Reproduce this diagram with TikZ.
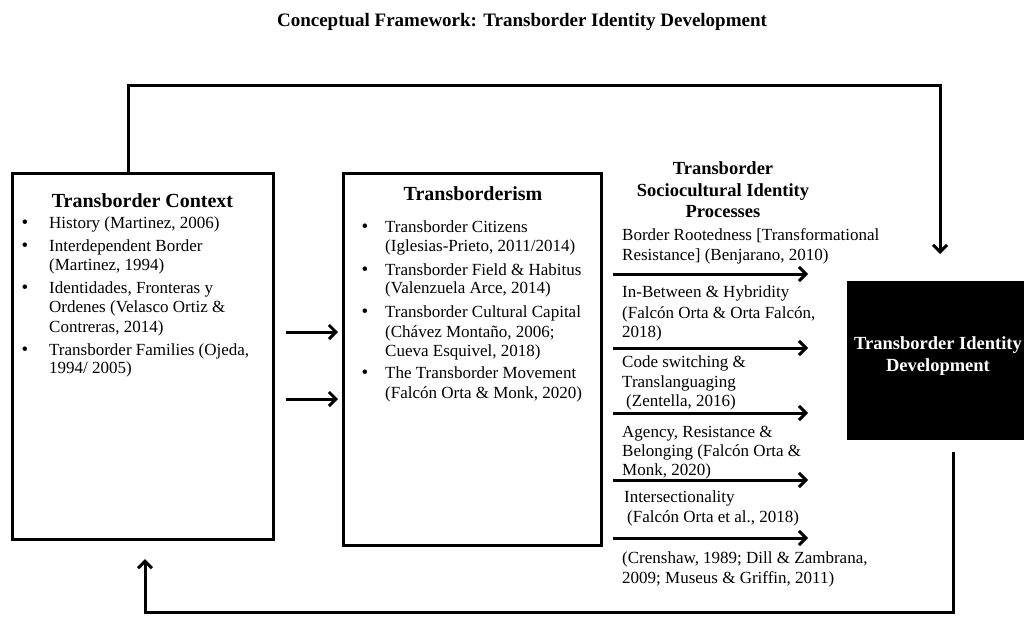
\documentclass[tikz,border=0pt]{standalone}
\usepackage{fontspec}
\setmainfont{Liberation Serif}
\usetikzlibrary{arrows.meta}
\begin{document}
\begin{tikzpicture}[x=1pt,y=-1pt,
  body/.style={font=\fontsize{17}{19.5}\selectfont, inner sep=0pt, anchor=base west},
  bul/.style={font=\fontsize{19}{19.5}\selectfont, inner sep=0pt, anchor=base},
  hd/.style={font=\fontsize{20}{22}\selectfont\bfseries, inner sep=0pt, anchor=base},
  mhd/.style={font=\fontsize{18.5}{21}\selectfont\bfseries, inner sep=0pt, anchor=base},
  boxst/.style={draw, line width=3pt, inner sep=0pt, outer sep=0pt},
  conn/.style={line width=3pt, -{Straight Barb[length=7pt,width=14pt]}}
]
\useasboundingbox (0,0) rectangle (1024,616);

% title
\node[font=\fontsize{19}{22}\selectfont\bfseries, inner sep=0pt, anchor=base] (title) at (522,26) {Conceptual Framework: Transborder Identity Development};

% boxes
\node[boxst, minimum width=261pt, minimum height=366pt] (ctx) at (142.5,356) {};
\node[boxst, minimum width=258pt, minimum height=372pt] (tism) at (472,359) {};
\node[fill=black, inner sep=0pt, outer sep=0pt, minimum width=182pt, minimum height=159pt] (tid) at (938,360.5) {};
\node[font=\fontsize{18.5}{22}\selectfont\bfseries, text=white, align=center, inner sep=0pt] (tidt) at (938,356) {Transborder Identity\\Development};

% box 1 text
\node[hd] (ctxh) at (142.5,207) {Transborder Context};
\node[bul] (cb1) at (25,228) {\textbullet};
\node[body] (c1) at (49,228) {History (Martinez, 2006)};
\node[bul] (cb2) at (25,251) {\textbullet};
\node[body] (c2) at (49,251) {Interdependent Border};
\node[body] (c2b) at (49,270) {(Martinez, 1994)};
\node[bul] (cb3) at (25,293) {\textbullet};
\node[body] (c3) at (49,293) {Identidades, Fronteras y};
\node[body] (c3b) at (49,312) {Ordenes (Velasco Ortiz \&};
\node[body] (c3c) at (49,332) {Contreras, 2014)};
\node[bul] (cb4) at (25,355) {\textbullet};
\node[body] (c4) at (49,355) {Transborder Families (Ojeda,};
\node[body] (c4b) at (49,373) {1994/ 2005)};

% box 2 text
\node[hd] (tismh) at (473,200) {Transborderism};
\node[bul] (tb1) at (365,232) {\textbullet};
\node[body] (t1) at (385,232) {Transborder Citizens};
\node[body] (t1b) at (385,251) {(Iglesias-Prieto, 2011/2014)};
\node[bul] (tb2) at (365,275) {\textbullet};
\node[body] (t2) at (385,275) {Transborder Field \& Habitus};
\node[body] (t2b) at (385,293) {(Valenzuela Arce, 2014)};
\node[bul] (tb3) at (365,317) {\textbullet};
\node[body] (t3) at (385,317) {Transborder Cultural Capital};
\node[body] (t3b) at (385,337) {(Chávez Montaño, 2006;};
\node[body] (t3c) at (385,356) {Cueva Esquivel, 2018)};
\node[bul] (tb4) at (365,378) {\textbullet};
\node[body] (t4) at (385,378) {The Transborder Movement};
\node[body] (t4b) at (385,398) {(Falcón Orta \& Monk, 2020)};

% middle column
\node[mhd] (mh1) at (723,174) {Transborder};
\node[mhd] (mh2) at (723,196) {Sociocultural Identity};
\node[mhd] (mh3) at (723,217) {Processes};
\node[body] (m1) at (622,240) {Border Rootedness [Transformational};
\node[body] (m1b) at (622,260) {Resistance] (Benjarano, 2010)};
\node[body] (m2) at (622,297) {In-Between \& Hybridity};
\node[body] (m2b) at (622,318) {(Falcón Orta \& Orta Falcón,};
\node[body] (m2c) at (622,337) {2018)};
\node[body] (m3) at (622,367) {Code switching \&};
\node[body] (m3b) at (622,387) {Translanguaging};
\node[body] (m3c) at (626,406) {(Zentella, 2016)};
\node[body] (m4) at (622,437) {Agency, Resistance \&};
\node[body] (m4b) at (622,456) {Belonging (Falcón Orta \&};
\node[body] (m4c) at (622,475) {Monk, 2020)};
\node[body] (m5) at (624,502) {Intersectionality};
\node[body] (m5b) at (627,522) {(Falcón Orta et al., 2018)};
\node[body] (m6) at (622,563) {(Crenshaw, 1989; Dill \& Zambrana,};
\node[body] (m6b) at (622,583) {2009; Museus \& Griffin, 2011)};

% connectors
\coordinate (tl) at (128,173);
\draw[conn] (tl) -- ++(0,-88) -| ([xshift=2pt,yshift=27pt]tid.north);

\draw[conn, shorten <=13pt, shorten >=5pt] (ctx.east |- 0,332) -- (tism.west |- 0,332);
\draw[conn, shorten <=13pt, shorten >=5pt] (ctx.east |- 0,399) -- (tism.west |- 0,399);

\foreach \yy [count=\i] in {274,348,413,480,538}
  \draw[conn, shorten <=12pt, shorten >=39pt] (tism.east |- 0,\yy) -- (tid.west |- 0,\yy);

\coordinate (bl1) at (953,452);
\coordinate (bl2) at (145,559);
\draw[conn] (bl1) -- ++(0,160) -| (bl2);
\end{tikzpicture}
\end{document}
